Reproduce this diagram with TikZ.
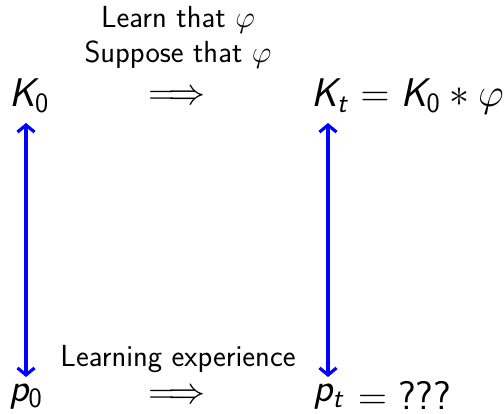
\RequirePackage{fix-cm}
\documentclass[tikz,border=0pt]{standalone}
\usetikzlibrary{arrows.meta}
\DeclareMathAlphabet{\mathsfit}{OT1}{cmss}{m}{sl}
\DeclareMathAlphabet{\mathsfup}{OT1}{cmss}{m}{n}
\begin{document}
\begin{tikzpicture}[x=1pt,y=1pt,
  mathlbl/.style={inner sep=0pt,font=\fontsize{40}{48}\selectfont},
  txtlbl/.style={inner sep=0pt,font=\fontsize{30.5}{36}\selectfont\sffamily},
  implies/.style={inner sep=0pt,font=\fontsize{37}{44}\selectfont},
  link/.style={draw=blue,line width=3.2pt,{Straight Barb[length=7pt,width=17pt]}-{Straight Barb[length=7pt,width=17pt]}}]
\useasboundingbox (0,0) rectangle (504,413);
% top row
\node[mathlbl,anchor=base west] (K0) at (9,306) {$\mathsfit{K}_{\mathsfup{0}}$};
\node[mathlbl,anchor=base west] (Kt) at (311,306) {$\mathsfit{K}_{\mathsfit{t}}$};
\node[mathlbl,anchor=base west] (Kdef) at (Kt.base east) {$\;=\mathsfit{K}_{\mathsfup{0}}\ast\varphi$};
\node[implies] (topimp) at (177,315) {$\Longrightarrow$};
\node[txtlbl,anchor=base] (learn) at (178,385) {Learn that $\varphi$};
\node[txtlbl,anchor=base] (suppose) at (178,350) {Suppose that $\varphi$};
% bottom row
\node[mathlbl,anchor=base west] (p0) at (9,12) {$\mathsfit{p}_{\mathsfup{0}}$};
\node[mathlbl,anchor=base west] (pt) at (313,12) {$\mathsfit{p}_{\mathsfit{t}}$};
\node[mathlbl,anchor=base west] (pdef) at (358,4) {$=\textsf{???}$};
\node[implies] (botimp) at (177,16.5) {$\Longrightarrow$};
\node[txtlbl,anchor=base] (exper) at (178,46) {Learning experience};
% vertical links
\coordinate (Ltop) at (26,290);
\coordinate (Lbot) at (26,36);
\coordinate (Rtop) at (328,290);
\coordinate (Rbot) at (328,36);
\draw[link] (Ltop) -- (Lbot);
\draw[link] (Rtop) -- (Rbot);
\end{tikzpicture}
\end{document}
